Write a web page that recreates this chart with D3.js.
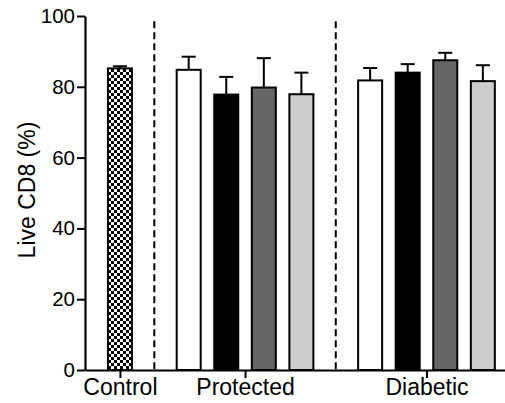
<!DOCTYPE html>
<html><head><meta charset="utf-8">
<script src="https://cdn.jsdelivr.net/npm/d3@7"></script>
<style>body{margin:0;background:#fff}svg{display:block}</style>
</head><body>
<script>
const groups = ["Control", "Protected", "Diabetic"];
const controlValues = [85.2];
const controlErrors = [0.6];
const protectedValues = [84.8, 77.8, 79.8, 77.9];
const protectedErrors = [3.7, 5.0, 8.3, 6.1];
const diabeticValues = [81.8, 84.0, 87.5, 81.6];
const diabeticErrors = [3.5, 2.4, 2.1, 4.5];
const seriesFills = ["#ffffff", "#000000", "#666666", "#cccccc"];
const yTicks = [0, 20, 40, 60, 80, 100];
const yLabel = "Live CD8 (%)";

const W = 505, H = 403;
const svg = d3.select("body").append("svg").attr("width", W).attr("height", H);
const defs = svg.append("defs");
const pat = defs.append("pattern").attr("id","checker").attr("patternUnits","userSpaceOnUse")
  .attr("width",6).attr("height",6).attr("x",108).attr("y",0);
pat.append("rect").attr("width",6).attr("height",6).attr("fill","#fff");
pat.append("rect").attr("width",3).attr("height",3).attr("fill","#000");
pat.append("rect").attr("x",3).attr("y",3).attr("width",3).attr("height",3).attr("fill","#000");

const groupData = [
  {name: groups[0], values: controlValues, errors: controlErrors},
  {name: groups[1], values: protectedValues, errors: protectedErrors},
  {name: groups[2], values: diabeticValues, errors: diabeticErrors}
];
const gapSlots = 0.83;
let idx = 0;
const bars = [];
const groupCenters = [];
groupData.forEach((g, gi) => {
  const start = idx + gi * gapSlots;
  g.values.forEach((v, i) => {
    bars.push({group: g.name, gi, i, slot: start + i, value: v, err: g.errors[i]});
  });
  groupCenters.push({name: g.name, slot: start + (g.values.length - 1) / 2, start, end: start + g.values.length - 1});
  idx += g.values.length;
});

const x = d3.scaleLinear().domain([-0.93, 10.25]).range([85, 505]);
const y = d3.scaleLinear().domain([0, 100]).range([370, 16]);
const bw = 24;
const font = "Liberation Sans, Arial, sans-serif";

// dashed separators
for (let k = 0; k < groupCenters.length - 1; k++) {
  const sx = x((groupCenters[k].end + groupCenters[k + 1].start) / 2);
  svg.append("line").attr("x1", sx).attr("x2", sx).attr("y1", y(98.5)).attr("y2", y(0))
    .attr("stroke", "#000").attr("stroke-width", 2).attr("stroke-dasharray", "7,4");
}

// error bars
const eb = svg.append("g");
bars.forEach(b => {
  const cx = x(b.slot);
  eb.append("line").attr("x1", cx).attr("x2", cx).attr("y1", y(b.value)).attr("y2", y(b.value + b.err))
    .attr("stroke", "#000").attr("stroke-width", 2);
  eb.append("line").attr("x1", cx - 7).attr("x2", cx + 7).attr("y1", y(b.value + b.err)).attr("y2", y(b.value + b.err))
    .attr("stroke", "#000").attr("stroke-width", 2);
});

// bars
svg.append("g").selectAll("rect").data(bars).join("rect")
  .attr("x", d => x(d.slot) - bw / 2)
  .attr("y", d => y(d.value))
  .attr("width", bw)
  .attr("height", d => y(0) - y(d.value))
  .attr("fill", d => d.gi === 0 ? "url(#checker)" : seriesFills[d.i])
  .attr("stroke", "#000").attr("stroke-width", 2);

// y axis
const yAxis = svg.append("g").attr("transform", `translate(${x(-0.93)},0)`)
  .call(d3.axisLeft(y).tickValues(yTicks).tickSize(8).tickPadding(2).tickSizeOuter(0));
yAxis.select(".domain").attr("stroke-width", 2.2);
yAxis.selectAll(".tick line").attr("stroke-width", 2);
yAxis.selectAll("text").attr("font-family", font).attr("font-size", 20.5).attr("fill", "#000");

// x axis
const xAxis = svg.append("g").attr("transform", `translate(0,${y(0)})`)
  .call(d3.axisBottom(x).tickValues(groupCenters.map(g => g.slot)).tickFormat((d, i) => groupCenters[i].name)
    .tickSize(8).tickPadding(1).tickSizeOuter(0));
xAxis.select(".domain").attr("stroke-width", 2.2);
xAxis.selectAll(".tick line").attr("stroke-width", 2);
xAxis.selectAll("text").attr("font-family", font).attr("font-size", 23).attr("fill", "#000");

svg.append("text").attr("transform", `translate(35,190) rotate(-90)`)
  .attr("text-anchor", "middle")
  .attr("font-family", font).attr("font-size", 23)
  .text(yLabel);
</script>
</body></html>
